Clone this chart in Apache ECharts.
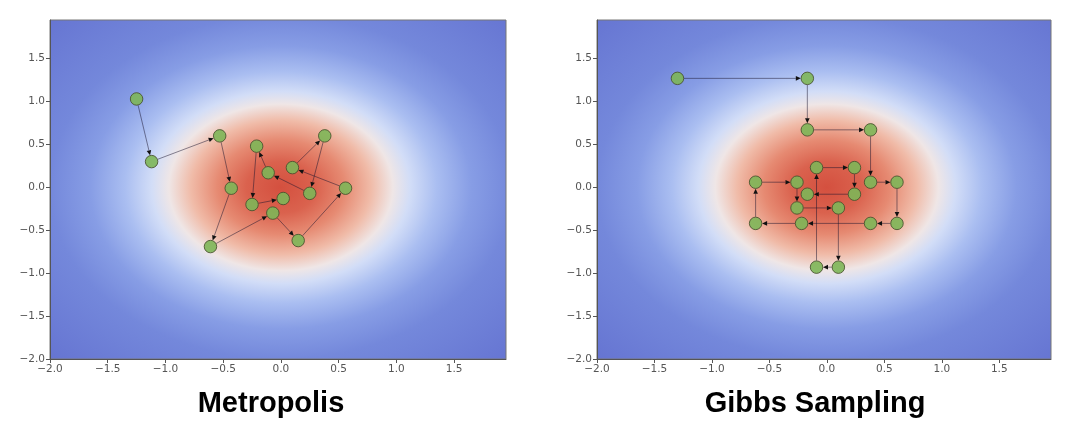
<!DOCTYPE html>
<html>
<head>
<meta charset="utf-8">
<script src="https://cdn.jsdelivr.net/npm/echarts@6/dist/echarts.min.js"></script>
<style>
html,body{margin:0;padding:0;background:#fff;}
#main{width:1080px;height:436px;}
</style>
</head>
<body>
<div id="main"></div>
<script>
// Metropolis chain (in visiting order)
var metroX = [-1.25, -1.12, -0.53, -0.43, -0.61, -0.07, 0.15, 0.56, 0.10, 0.38, 0.25, -0.11, -0.21, -0.25, 0.02];
var metroY = [1.03, 0.30, 0.60, -0.01, -0.69, -0.30, -0.62, -0.01, 0.23, 0.60, -0.07, 0.17, 0.48, -0.20, -0.13];
// Gibbs chain (in visiting order)
var gibbsX = [-1.30, -0.17, -0.17, 0.38, 0.38, 0.61, 0.61, 0.38, -0.22, -0.62, -0.62, -0.26, -0.26, 0.10, 0.10, -0.09, -0.09, 0.24, 0.24, -0.17];
var gibbsY = [1.27, 1.27, 0.67, 0.67, 0.06, 0.06, -0.42, -0.42, -0.42, -0.42, 0.06, 0.06, -0.24, -0.24, -0.93, -0.93, 0.23, 0.23, -0.08, -0.08];
var tickValues = [-2.0, -1.5, -1.0, -0.5, 0.0, 0.5, 1.0, 1.5];
var titles = ['Metropolis', 'Gibbs Sampling'];

function points(xs, ys) { return xs.map(function (x, i) { return [x, ys[i]]; }); }
function segments(xs, ys) {
  var s = [];
  for (var i = 0; i + 1 < xs.length; i++) s.push([xs[i], ys[i], xs[i + 1], ys[i + 1]]);
  return s;
}
function fmt(v) {
  if (tickValues.indexOf(Math.round(v * 100) / 100) < 0) return '';
  return (v < 0 ? '\u2212' : '') + Math.abs(v).toFixed(1);
}

var chart = echarts.init(document.getElementById('main'));
var grids = [
  {left: 50, top: 20, width: 456, height: 339},
  {left: 597, top: 20, width: 454, height: 339}
];
function axisCommon(extra) {
  return Object.assign({
    type: 'value', min: -2, max: 1.95, interval: 0.5, z: 5,
    splitLine: {show: false},
    axisLine: {show: true, onZero: false, lineStyle: {color: '#555', width: 1}},
    axisTick: {show: true, length: 4, lineStyle: {color: '#555'}},
    axisLabel: {formatter: fmt, color: '#555', fontFamily: 'DejaVu Sans', fontSize: 10.5, margin: 5, showMaxLabel: false}
  }, extra);
}

function renderArrow(params, api) {
  var p1 = api.coord([api.value(0), api.value(1)]);
  var p2 = api.coord([api.value(2), api.value(3)]);
  var dx = p2[0] - p1[0], dy = p2[1] - p1[1];
  var L = Math.sqrt(dx * dx + dy * dy) || 1;
  var ux = dx / L, uy = dy / L;
  var sh = 6.5;
  var a = [p1[0] + ux * sh, p1[1] + uy * sh];
  var b = [p2[0] - ux * sh, p2[1] - uy * sh];
  var hl = 5, hw = 2.3;
  var base = [b[0] - ux * hl, b[1] - uy * hl];
  return {
    type: 'group',
    children: [
      {type: 'line', shape: {x1: a[0], y1: a[1], x2: base[0], y2: base[1]},
       style: {stroke: 'rgba(25,20,45,0.5)', lineWidth: 1}},
      {type: 'polygon', shape: {points: [b, [base[0] - uy * hw, base[1] + ux * hw], [base[0] + uy * hw, base[1] - ux * hw]]},
       style: {fill: '#111'}}
    ]
  };
}

var option = {
  animation: false,
  backgroundColor: '#fff',
  grid: grids.map(function (g) { return Object.assign({show: true, borderColor: '#777', borderWidth: 1, backgroundColor: 'transparent'}, g); }),
  xAxis: [axisCommon({gridIndex: 0}), axisCommon({gridIndex: 1})],
  yAxis: [axisCommon({gridIndex: 0}), axisCommon({gridIndex: 1})],
  series: [
    {type: 'custom', xAxisIndex: 0, yAxisIndex: 0, renderItem: renderArrow, encode: {x: [0, 2], y: [1, 3]}, data: segments(metroX, metroY), z: 3},
    {type: 'custom', xAxisIndex: 1, yAxisIndex: 1, renderItem: renderArrow, encode: {x: [0, 2], y: [1, 3]}, data: segments(gibbsX, gibbsY), z: 3},
    {type: 'scatter', xAxisIndex: 0, yAxisIndex: 0, data: points(metroX, metroY), symbolSize: 12.5, z: 4,
     itemStyle: {color: 'rgba(125,182,88,0.9)', borderColor: 'rgba(70,80,45,0.85)', borderWidth: 1, opacity: 1}},
    {type: 'scatter', xAxisIndex: 1, yAxisIndex: 1, data: points(gibbsX, gibbsY), symbolSize: 12.5, z: 4,
     itemStyle: {color: 'rgba(125,182,88,0.9)', borderColor: 'rgba(70,80,45,0.85)', borderWidth: 1, opacity: 1}}
  ]
};
chart.setOption(option);

// Background density shading, placed through the axes' own scales
var R = 2.8;
var stops = [
  [0.0, '#d4503f'], [0.3, '#da624e'], [0.55, '#e68a72'], [0.78, '#f0bba8'],
  [0.97, '#efe6e6'], [1.12, '#d2ddf7'], [1.35, '#aabef1'], [1.65, '#879de5'],
  [2.0, '#7488db'], [2.8, '#6675d2']
];
var graphics = [];
[0, 1].forEach(function (gi) {
  var c = chart.convertToPixel({gridIndex: gi}, [0, 0]);
  var u = chart.convertToPixel({gridIndex: gi}, [1, 1]);
  var sx = u[0] - c[0], sy = c[1] - u[1];
  var tl = chart.convertToPixel({gridIndex: gi}, [-2, 1.95]);
  var br = chart.convertToPixel({gridIndex: gi}, [1.95, -2]);
  var x0 = (tl[0] - c[0]) / sx, y0 = (tl[1] - c[1]) / sy;
  var x1 = (br[0] - c[0]) / sx, y1 = (br[1] - c[1]) / sy;
  graphics.push({
    type: 'group', x: c[0], y: c[1], scaleX: sx, scaleY: sy, z: -1, silent: true,
    children: [{
      type: 'rect', z: -1, silent: true,
      shape: {x: x0, y: y0, width: x1 - x0, height: y1 - y0},
      style: {fill: {type: 'radial', x: 0, y: 0, r: R, global: true,
        colorStops: stops.map(function (s) { return {offset: s[0] / R, color: s[1]}; })}}
    }]
  });
  graphics.push({
    type: 'text', x: gi === 0 ? 271 : 815, y: 404, z: 10,
    style: {text: titles[gi], fontFamily: 'Liberation Sans, Arial, sans-serif', fontWeight: 'bold', fontSize: 29,
      fill: '#000', textAlign: 'center', textVerticalAlign: 'middle'}
  });
});
chart.setOption({graphic: graphics});
</script>
</body>
</html>
